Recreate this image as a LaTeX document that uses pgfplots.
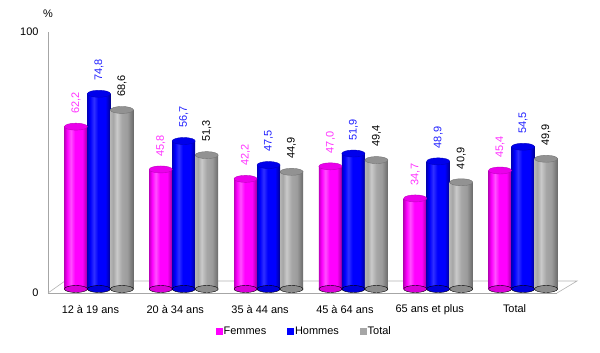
\documentclass[border=0pt]{standalone}
\usepackage{fontspec}
\setmainfont{Liberation Sans}
\usepackage{pgfplots}
\usepackage{pgfplotstable}
\pgfplotsset{compat=1.18}
\definecolor{fem}{HTML}{FF00FF}
\definecolor{feml}{HTML}{FF50FF}
\definecolor{femd}{HTML}{C000C0}
\definecolor{femr}{HTML}{9A009A}
\definecolor{femt}{HTML}{FF33FF}
\definecolor{hom}{HTML}{0000FF}
\definecolor{homl}{HTML}{3030FF}
\definecolor{homd}{HTML}{0000C0}
\definecolor{homr}{HTML}{000090}
\definecolor{homt}{HTML}{2020FF}
\definecolor{tot}{HTML}{A6A6A6}
\definecolor{totl}{HTML}{CACACA}
\definecolor{totd}{HTML}{B4B4B4}
\definecolor{totm}{HTML}{9C9C9C}
\definecolor{totr}{HTML}{6A6A6A}
\pgfdeclarehorizontalshading{cylfem}{100bp}{color(0bp)=(femd); color(25bp)=(femd); color(31bp)=(fem); color(39bp)=(feml); color(48bp)=(fem); color(64bp)=(fem); color(75bp)=(femr); color(100bp)=(femr)}
\pgfdeclarehorizontalshading{cylhom}{100bp}{color(0bp)=(homd); color(25bp)=(homd); color(31bp)=(hom); color(39bp)=(homl); color(48bp)=(hom); color(64bp)=(hom); color(75bp)=(homr); color(100bp)=(homr)}
\pgfdeclarehorizontalshading{cyltot}{100bp}{color(0bp)=(totd); color(25bp)=(totd); color(31bp)=(tot); color(39bp)=(totl); color(50bp)=(tot); color(62bp)=(totm); color(75bp)=(totr); color(100bp)=(totr)}
\pgfdeclareplotmark{cyl}{\pgfpathellipse{\pgfpointorigin}{\pgfqpoint{11.5bp}{0pt}}{\pgfqpoint{0pt}{3.5bp}}\pgfusepathqfillstroke}
\pgfplotstableread{
x fem hom tot z
0 62.2 74.8 68.6 0
1 45.8 56.7 51.3 0
2 42.2 47.5 44.9 0
3 47.0 51.9 49.4 0
4 34.7 48.9 40.9 0
5 45.4 54.5 49.9 0
}\data
\begin{document}
\begin{tikzpicture}
\path[use as bounding box] (-48bp,-60bp) rectangle (552bp,293bp);
\begin{axis}[
  at={(0,0)}, anchor=south west,
  scale only axis, width=509bp, height=261bp,
  xmin=-0.5, xmax=5.5, ymin=0, ymax=100,
  clip=false,
  axis lines=left, axis line style={-, draw=gray!70, line width=0.6bp},
  xtick={0,1,2,3,4,5},
  xticklabels={12 à 19 ans, 20 à 34 ans, 35 à 44 ans, 45 à 64 ans, 65 ans et plus, Total},
  ytick={0,100}, yticklabels={0,100},
  major tick length=0pt,
  tick label style={font=\fontsize{11}{13}\selectfont},
  xticklabel style={yshift=-8.5bp},
  yticklabel style={xshift=-6bp},
  /pgf/number format/assume math mode=true,
  /pgf/number format/.cd, fixed, fixed zerofill, precision=1, use comma,
  /pgfplots/.cd,
  legend style={at={(axis description cs:0.503,0)}, anchor=center, yshift=-38bp,
    draw=none, legend columns=3, font=\fontsize{11}{13}\selectfont,
    nodes={inner xsep=1.2bp},
    /tikz/every even column/.append style={column sep=20bp},
    inner sep=1bp},
  legend cell align=left,
]
% floor
\addplot[forget plot, draw=gray!60, line width=0.6bp, mark=none] coordinates {(-0.5,0) (-0.3,4.6) (5.736,4.6) (5.5,0)};
% bottom caps
\addplot[forget plot, yshift=4bp, only marks, mark=cyl, mark options={fill=fem!85!black, draw=none}] table[x expr=\thisrow{x}-0.171, y=z]{\data};
\addplot[forget plot, yshift=4bp, only marks, mark=cyl, mark options={fill=hom!85!black, draw=none}] table[x expr=\thisrow{x}+0.1, y=z]{\data};
\addplot[forget plot, yshift=4bp, only marks, mark=cyl, mark options={fill=tot!85!black, draw=none}] table[x expr=\thisrow{x}+0.371, y=z]{\data};
% bars, one plot per group so that each bar is shaded as a cylinder
\pgfplotsinvokeforeach{-1:0.5, 0.5:1.5, 1.5:2.5, 2.5:3.5, 3.5:4.5, 4.5:6}{
\addplot[forget plot, yshift=4bp, ybar, bar width=23bp, bar shift=0pt, draw=none, shade, shading=cylfem,
  restrict x to domain=#1]
  table[x expr=\thisrow{x}-0.171, y=fem]{\data};
\addplot[forget plot, yshift=4bp, ybar, bar width=23bp, bar shift=0pt, draw=none, shade, shading=cylhom,
  restrict x to domain=#1]
  table[x expr=\thisrow{x}+0.1, y=hom]{\data};
\addplot[forget plot, yshift=4bp, ybar, bar width=23bp, bar shift=0pt, draw=none, shade, shading=cyltot,
  restrict x to domain=#1]
  table[x expr=\thisrow{x}+0.371, y=tot]{\data};
}
\addlegendimage{legend image code/.code={\fill[fem] (0bp,-3bp) rectangle (6bp,3bp);}}
\addlegendentry{Femmes}
\addlegendimage{legend image code/.code={\fill[hom] (0bp,-3bp) rectangle (6bp,3bp);}}
\addlegendentry{Hommes}
\addlegendimage{legend image code/.code={\fill[tot] (0bp,-3bp) rectangle (6bp,3bp);}}
\addlegendentry{Total}
% top caps with labels
\addplot[forget plot, yshift=4bp, only marks, mark=cyl, mark options={fill=fem!92!black, draw=femd, line width=0.4bp},
  point meta=y, nodes near coords,
  every node near coord/.append style={rotate=90, anchor=west, inner xsep=13bp, font=\fontsize{11}{13}\selectfont, text=femt}]
  table[x expr=\thisrow{x}-0.171, y=fem]{\data};
\addplot[forget plot, yshift=4bp, only marks, mark=cyl, mark options={fill=hom!92!black, draw=homd, line width=0.4bp},
  point meta=y, nodes near coords,
  every node near coord/.append style={rotate=90, anchor=west, inner xsep=13bp, font=\fontsize{11}{13}\selectfont, text=homt}]
  table[x expr=\thisrow{x}+0.1, y=hom]{\data};
\addplot[forget plot, yshift=4bp, only marks, mark=cyl, mark options={fill=tot!88!black, draw=tot!70!black, line width=0.4bp},
  point meta=y, nodes near coords,
  every node near coord/.append style={rotate=90, anchor=west, inner xsep=13bp, font=\fontsize{11}{13}\selectfont, text=black}]
  table[x expr=\thisrow{x}+0.371, y=tot]{\data};
\node[anchor=base, font=\fontsize{11}{13}\selectfont] at (rel axis cs:0,1) [yshift=14bp] {\%};
\end{axis}
\end{tikzpicture}
\end{document}
